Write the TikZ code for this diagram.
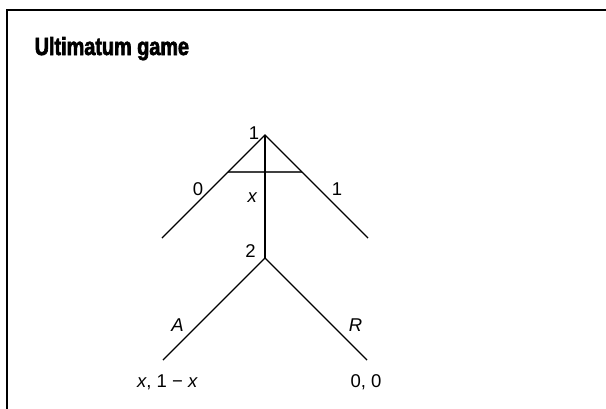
\documentclass[tikz,border=0pt]{standalone}
\usepackage{fontspec}
\setmainfont{Liberation Sans}
\newfontfamily\titlefont[FakeStretch=0.8,FakeBold=2.6]{Liberation Sans Bold}
\begin{document}
\begin{tikzpicture}[x=1pt,y=-1pt,
  branch/.style={line width=1.4pt,black},
  infoset/.style={line width=2pt,black!75},
  frameline/.style={line width=2.8pt,black},
  lbl/.style={inner sep=0pt,font=\fontsize{18.5}{20}\selectfont}]
\useasboundingbox (0,0) rectangle (606,408);
\fill[white] (0,0) rectangle (606,408);
% frame
\coordinate (fb) at (7,410);
\coordinate (fc) at (7,10);
\coordinate (fr) at (608,10);
\draw[frameline] (fb) -- (fc) -- (fr);
% title
\node[anchor=base west,inner sep=0pt,font=\titlefont\fontsize{24.8}{28}\selectfont] (title) at (34.5,55) {Ultimatum game};
% tree
\coordinate (n1) at (265,135);
\coordinate (l0) at (162,238);
\coordinate (r1) at (368,238);
\coordinate (n2) at (265,258);
\coordinate (ea) at (163,360);
\coordinate (er) at (367,360);
\coordinate (i1) at (228,172);
\coordinate (i2) at (302,172);
\draw[infoset] (i1) -- (i2);
\draw[branch] (l0) -- (n1) -- (r1);
\draw[branch] (n1) -- (n2);
\draw[branch] (ea) -- (n2) -- (er);
% labels
\node[lbl] (t1) at (254,133) {1};
\node[lbl] (t0) at (198,189) {0};
\node[lbl] (t1r) at (337,189) {1};
\node[lbl] (tx) at (252.5,198) {\textit{x}};
\node[lbl] (t2) at (250.5,251.5) {2};
\node[lbl] (tA) at (177.5,325) {\textit{A}};
\node[lbl] (tR) at (355.5,325) {\textit{R}};
\node[lbl,anchor=base] (pa) at (167.5,387) {\textit{x}, 1 − \textit{x}};
\node[lbl,anchor=base] (pr) at (366,387) {0, 0};
\end{tikzpicture}
\end{document}
